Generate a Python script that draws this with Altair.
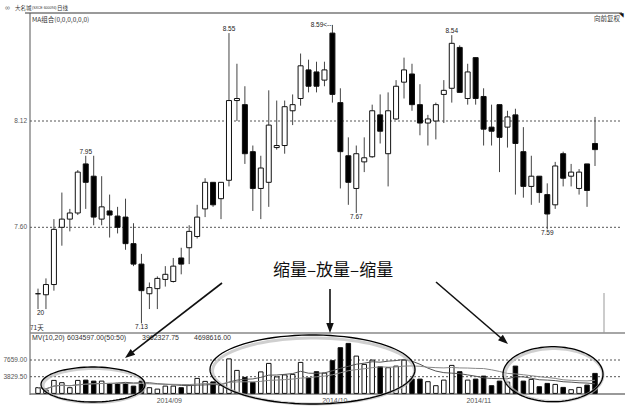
import math
import altair as alt
import pandas as pd

# Daily OHLC prices and volume, 71 sessions
opens = [7.275, 7.27, 7.32, 7.60, 7.64, 7.67, 7.91, 7.85, 7.64, 7.68,
         7.655, 7.65, 7.52, 7.42, 7.275, 7.30, 7.345, 7.335, 7.45, 7.50,
         7.555, 7.69, 7.82, 7.74, 7.83, 8.22, 8.20, 7.97, 7.79, 7.82,
         7.99, 8.00, 8.17, 8.23, 8.37, 8.36, 8.32, 8.55, 8.21, 7.95,
         7.79, 7.92, 7.945, 8.15, 7.96, 8.13, 8.31, 8.35, 8.20, 8.11,
         8.12, 8.25, 8.28, 8.48, 8.23, 8.43, 8.24, 8.09, 8.20, 8.09,
         8.15, 7.97, 7.80, 7.85, 7.76, 7.71, 7.96, 7.85, 7.79, 7.91,
         8.01]
highs = [7.30, 7.35, 7.64, 7.77, 7.69, 7.88, 7.95, 7.95, 7.85, 7.76,
         7.70, 7.74, 7.62, 7.47, 7.33, 7.36, 7.41, 7.45, 7.50, 7.61,
         7.71, 7.84, 7.82, 7.82, 8.55, 8.40, 8.29, 8.00, 7.95, 8.27,
         8.22, 8.22, 8.25, 8.45, 8.42, 8.41, 8.41, 8.59, 8.28, 8.04,
         8.00, 8.04, 8.20, 8.25, 8.26, 8.32, 8.43, 8.40, 8.30, 8.15,
         8.21, 8.32, 8.54, 8.49, 8.40, 8.43, 8.28, 8.20, 8.20, 8.17,
         8.18, 8.09, 7.95, 7.85, 7.815, 7.92, 7.97, 7.91, 7.885, 7.91,
         8.14]
lows = [7.20, 7.20, 7.29, 7.51, 7.58, 7.66, 7.69, 7.61, 7.61, 7.55,
        7.57, 7.49, 7.41, 7.13, 7.20, 7.20, 7.31, 7.33, 7.37, 7.42,
        7.545, 7.65, 7.70, 7.64, 7.80, 8.12, 7.91, 7.68, 7.64, 7.70,
        7.98, 7.96, 8.10, 8.195, 8.26, 8.26, 8.29, 8.21, 7.79, 7.71,
        7.67, 7.87, 7.94, 8.01, 7.80, 8.125, 8.23, 8.17, 8.05, 8.00,
        8.03, 8.11, 8.21, 8.26, 8.20, 8.20, 8.00, 8.00, 7.87, 7.99,
        7.76, 7.745, 7.71, 7.72, 7.59, 7.69, 7.80, 7.80, 7.76, 7.70,
        7.90]
closes = [7.275, 7.32, 7.59, 7.64, 7.67, 7.87, 7.82, 7.65, 7.70, 7.66,
          7.60, 7.52, 7.42, 7.29, 7.305, 7.35, 7.37, 7.41, 7.42, 7.58,
          7.65, 7.82, 7.71, 7.82, 8.22, 8.23, 7.96, 7.79, 7.89, 8.10,
          8.00, 8.19, 8.20, 8.39, 8.29, 8.29, 8.37, 8.25, 7.97, 7.82,
          7.96, 7.94, 8.17, 8.07, 8.17, 8.29, 8.37, 8.20, 8.11, 8.13,
          8.20, 8.27, 8.50, 8.26, 8.36, 8.23, 8.08, 8.07, 8.04, 8.14,
          8.01, 7.80, 7.85, 7.77, 7.665, 7.90, 7.84, 7.87, 7.87, 7.78,
          7.98]
volumes = [1307, 757, 2981, 2454, 1307, 2981, 3050, 2820, 2820, 2293,
           2293, 2293, 1674, 2820, 1307, 986, 1674, 1674, 1307, 1834,
           3440, 2752, 2637, 1834, 7911, 5274, 3669, 2522, 4930, 6879,
           3783, 4242, 4357, 7108, 3554, 4976, 4655, 7498, 10479, 11465,
           8553, 6650, 7636, 6122, 5893, 6260, 7636, 3279, 3279, 2683,
           1766, 3050, 6420, 4976, 3050, 3279, 3967, 1766, 2820, 2591,
           6260, 2820, 3210, 1536, 2293, 2064, 1376, 848, 1376, 1903,
           4586]

month_labels = ["2014/09", "2014/10", "2014/11"]
month_pos = [16.5, 37.3, 55.4]

price_ticks = [7.60, 8.12]
vol_ticks = [3829.50, 7659.00]

high_marks = [6, 24, 52]      # sessions whose high is labelled
low_marks = [13, 40, 64]      # sessions whose low is labelled
peak_mark = 37                # overall high, labelled with a leader

SANS = "Liberation Sans"
CJK = "Noto Sans CJK SC"

days = list(range(len(opens)))
df = pd.DataFrame({"day": days, "open": opens, "high": highs, "low": lows,
                   "close": closes, "volume": volumes})
df["up"] = df["close"] >= df["open"]
df["base"] = 0.0

X_SCALE = alt.Scale(domain=[0, 70], range=[33, 600], nice=False, zero=False)
PRICE_SCALE = alt.Scale(domain=[7.60, 8.12], range=[227.3, 121.0], nice=False, zero=False)
VOL_SCALE = alt.Scale(domain=[0, 7659], range=[393.4, 360.0], nice=False, zero=False)

X = alt.X("day:Q", scale=X_SCALE, axis=None)


def py(field):
    return alt.Y(field, type="quantitative", scale=PRICE_SCALE, axis=None)


def vy(field):
    return alt.Y(field, type="quantitative", scale=VOL_SCALE, axis=None)


def note(text, x, y, size=7, color="#333", align="left", font=SANS):
    return alt.Chart(pd.DataFrame({"t": [text]})).mark_text(
        align=align, baseline="middle", fontSize=size, color=color, font=font
    ).encode(x=alt.value(x), y=alt.value(y), text="t:N")


def hline(x1, x2, y, color, width=1, dash=None):
    kw = {"color": color, "strokeWidth": width}
    if dash:
        kw["strokeDash"] = dash
    return alt.Chart(pd.DataFrame({"k": [0]})).mark_rule(**kw).encode(
        x=alt.value(x1), x2=alt.value(x2), y=alt.value(y), y2=alt.value(y))


def vline(x, y1, y2, color, width=1):
    return alt.Chart(pd.DataFrame({"k": [0]})).mark_rule(color=color, strokeWidth=width).encode(
        x=alt.value(x), x2=alt.value(x), y=alt.value(y1), y2=alt.value(y2))


def ellipse_path(ratio, n=90):
    pts = []
    for k in range(n):
        t = 2 * math.pi * k / n
        pts.append(f"{math.cos(t):.4f},{ratio * math.sin(t):.4f}")
    return "M" + " L".join(pts) + " Z"


def ellipse(cx, cy, rx, ry, color="black", width=1.3, opacity=1.0):
    return alt.Chart(pd.DataFrame({"k": [0]})).mark_point(
        shape=ellipse_path(ry / rx), size=(2 * rx) ** 2, filled=False,
        stroke=color, strokeWidth=width, opacity=opacity
    ).encode(x=alt.value(cx), y=alt.value(cy))


ARROW_HEAD = "M0,0 L-0.75,2 L0.75,2 Z"


def arrow(x1, y1, x2, y2):
    dx, dy = x2 - x1, y2 - y1
    length = math.hypot(dx, dy)
    ex, ey = x2 - dx / length * 5, y2 - dy / length * 5
    angle = math.degrees(math.atan2(dx, -dy)) % 360
    shaft = alt.Chart(pd.DataFrame({"k": [0]})).mark_rule(color="#111", strokeWidth=1.6).encode(
        x=alt.value(x1), y=alt.value(y1), x2=alt.value(ex), y2=alt.value(ey))
    head = alt.Chart(pd.DataFrame({"k": [0]})).mark_point(
        shape=ARROW_HEAD, size=100, filled=True, color="#111", opacity=1, angle=angle
    ).encode(x=alt.value(x2), y=alt.value(y2))
    return [shaft, head]


base = alt.Chart(df)

# frame
frame = [
    hline(25, 622, 13, "#9a9a9a", 2),
    vline(30, 13, 395, "#555", 1),
    hline(30, 625, 333, "#888", 1.5),
    hline(30, 625, 394, "#777", 1.5),
    vline(604, 293, 333, "#999", 1),
]

# price gridlines + labels
price_grid = alt.Chart(pd.DataFrame({"p": price_ticks})).mark_rule(
    color="#555", strokeDash=[2, 2], strokeWidth=1
).encode(y=py("p"), x=alt.value(30), x2=alt.value(622))
price_lbl = alt.Chart(pd.DataFrame({"p": price_ticks})).mark_text(
    align="right", baseline="middle", fontSize=6.5, color="#555", font=SANS
).encode(y=py("p"), x=alt.value(27), text=alt.Text("p:Q", format=".2f"))

vol_grid = alt.Chart(pd.DataFrame({"v": vol_ticks})).mark_rule(
    color="#555", strokeDash=[2, 2], strokeWidth=1
).encode(y=vy("v"), x=alt.value(30), x2=alt.value(622))
vol_lbl = alt.Chart(pd.DataFrame({"v": vol_ticks})).mark_text(
    align="right", baseline="middle", fontSize=6.5, color="#555", font=SANS
).encode(y=vy("v"), x=alt.value(27), text=alt.Text("v:Q", format=".2f"))

# candlesticks
wicks = base.mark_rule(color="#444", strokeWidth=1).encode(x=X, y=py("low"), y2="high:Q")
bodies = base.mark_bar(width=5, stroke="#111", strokeWidth=1).encode(
    x=X, y=py("open"), y2="close:Q",
    fill=alt.condition(alt.datum.up, alt.value("white"), alt.value("black")))

# volume bars and moving averages
vol_bars = base.mark_bar(width=4.5, stroke="#111", strokeWidth=1).encode(
    x=X, y=vy("volume"), y2="base:Q",
    fill=alt.condition(alt.datum.up, alt.value("white"), alt.value("black")))
vol_ma = base.transform_window(
    ma10="mean(volume)", frame=[-9, 0], sort=[alt.SortField("day")]
).transform_window(
    ma20="mean(volume)", frame=[-19, 0], sort=[alt.SortField("day")]
).transform_fold(["ma10", "ma20"], as_=["kind", "val"]).mark_line(strokeWidth=1).encode(
    x=X, y=vy("val"),
    color=alt.Color("kind:N", scale=alt.Scale(domain=["ma10", "ma20"], range=["#555", "#888"]), legend=None))

# extreme price labels
hi_lbl = base.transform_filter(alt.FieldOneOfPredicate(field="day", oneOf=high_marks)).mark_text(
    baseline="bottom", dy=-1, fontSize=6.5, color="#222", font=SANS
).encode(x=X, y=py("high"), text=alt.Text("high:Q", format=".2f"))
lo_lbl = base.transform_filter(alt.FieldOneOfPredicate(field="day", oneOf=low_marks)).mark_text(
    baseline="top", dy=1, fontSize=6.5, color="#222", font=SANS
).encode(x=X, y=py("low"), text=alt.Text("low:Q", format=".2f"))
peak_lbl = base.transform_filter(alt.datum.day == peak_mark).transform_calculate(
    t="format(datum.high, '.2f') + '<--'"
).mark_text(align="right", baseline="middle", dx=-1, fontSize=6.5, color="#222", font=SANS).encode(
    x=X, y=py("high"), text="t:N")
first_lbl = base.transform_filter(alt.datum.day == 0).transform_calculate(
    t="substring(format(datum.low, '.2f'), 2)"
).mark_text(align="left", baseline="top", dx=-1, dy=1, fontSize=6.5, color="#222", font=SANS).encode(
    x=X, y=py("low"), text="t:N")

month_lbl = alt.Chart(pd.DataFrame({"m": month_labels, "d": month_pos})).mark_text(
    baseline="middle", fontSize=7, color="#555", font=SANS
).encode(x=alt.X("d:Q", scale=X_SCALE, axis=None), y=alt.value(400.5), text="m:N")

texts = [
    note("∞", 5, 8, size=7, color="#666"),
    note("大名城", 15, 8, size=5.5, color="#333", font=CJK),
    note("(SXCE 600094)", 32, 8, size=3.5, color="#333"),
    note("日线", 57, 8, size=5.5, color="#333", font=CJK),
    note("MA组合(0,0,0,0,0,0)", 32, 20, size=6.5, color="#333", font=CJK),
    note("向前复权", 594, 19, size=6.5, color="#333", font=CJK),
    note("◥", 619, 15, size=6, color="#111"),
    note("71天", 30, 328, size=6.5, color="#333", font=CJK),
    note("MV(10,20)", 32, 338, size=7, color="#333"),
    note("6034597.00(50:50)", 67, 338, size=7, color="#333"),
    note("3962327.75", 142, 338, size=7, color="#333"),
    note("4698616.00", 194, 338, size=7, color="#333"),
    note("缩量–放量–缩量", 273, 271, size=17, color="#111", font=CJK),
]

annotations = [
    ellipse(94, 385.5, 51, 17, color="#bbb", width=3, opacity=0.7),
    ellipse(93, 384.5, 52, 17.5),
    ellipse(313.5, 371, 101, 33, color="#bbb", width=3, opacity=0.7),
    ellipse(312.5, 369.5, 102.5, 34.5),
    ellipse(554, 375, 49, 26.5, color="#bbb", width=3, opacity=0.7),
    ellipse(553, 374.2, 50, 27.5),
]
annotations += arrow(222, 283, 125, 358)
annotations += arrow(330, 289, 330, 333)
annotations += arrow(436, 282, 508, 344)

layers = frame + [price_grid, price_lbl, vol_grid, vol_lbl, wicks, bodies, vol_bars, vol_ma,
                  hi_lbl, lo_lbl, peak_lbl, first_lbl, month_lbl] + texts + annotations

chart = alt.layer(*layers).resolve_scale(y="independent").properties(
    width=633, height=409, autosize=alt.AutoSizeParams(type="none"), padding=0,
    background="white"
).configure_view(stroke=None)

chart.save("out.html", embed_options={"renderer": "svg", "actions": False})
